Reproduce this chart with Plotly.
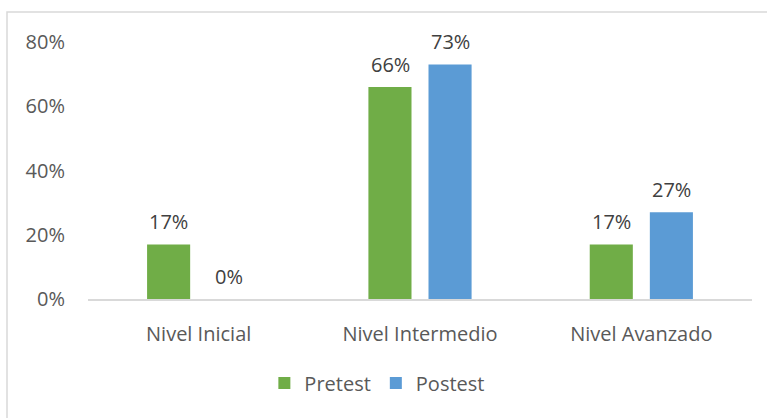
import plotly.graph_objects as go

categories = ["Nivel Inicial", "Nivel Intermedio", "Nivel Avanzado"]
pretest = [0.17, 0.66, 0.17]
postest = [0.00, 0.73, 0.27]
y_ticks = [0, 0.2, 0.4, 0.6, 0.8]
y_tick_labels = ["0%", "20%", "40%", "60%", "80%"]

GREEN = "#70AD47"
BLUE = "#5B9BD5"
FONT = "Open Sans"
SIZE = 20

W, H = 767, 418
L, R, T, B = 88, 15, 42, 119
plot_w = W - L - R
plot_h = H - T - B

fig = go.Figure()
fig.add_trace(go.Bar(name="Pretest", x=categories, y=pretest, marker_color=GREEN,
                     marker_line_width=0))
fig.add_trace(go.Bar(name="Postest", x=categories, y=postest, marker_color=BLUE,
                     marker_line_width=0))

# value labels above each bar
annotations = []
for series, shift in ((pretest, -30), (postest, 30)):
    for cat, v in zip(categories, series):
        annotations.append(dict(
            x=cat, y=v, xref="x", yref="y", xshift=shift, yshift=7,
            text=f"{round(v * 100)}%", showarrow=False, yanchor="bottom",
            font=dict(family=FONT, size=SIZE, color="#404040")))

# outer chart frame
frame = dict(type="rect", xref="paper", yref="paper",
             x0=(7 - L) / plot_w, x1=(W + 10 - L) / plot_w,
             y0=(H - B - (H + 10)) / plot_h, y1=(H - B - 12) / plot_h,
             line=dict(color="#D9D9D9", width=1.5), fillcolor="rgba(0,0,0,0)",
             layer="below")

fig.update_layout(
    width=W, height=H,
    margin=dict(l=L, r=R, t=T, b=B, pad=0),
    paper_bgcolor="white", plot_bgcolor="white",
    barmode="group", bargap=0.457, bargroupgap=0.283,
    font=dict(family=FONT, size=SIZE, color="#595959"),
    showlegend=True,
    legend=dict(orientation="h", xref="container", yref="container",
                x=0.492, xanchor="center", y=1 - 383 / H, yanchor="middle",
                font=dict(family=FONT, size=SIZE, color="#595959"),
                itemwidth=30, tracegroupgap=0, bgcolor="rgba(0,0,0,0)"),
    annotations=annotations,
    shapes=[frame],
)
fig.update_xaxes(showgrid=False, showline=True, linecolor="#D9D9D9", linewidth=1.5,
                 ticks="", ticklabelstandoff=16,
                 tickfont=dict(family=FONT, size=SIZE, color="#595959"))
fig.update_yaxes(range=[0, 0.8], tickvals=y_ticks, ticktext=y_tick_labels,
                 showgrid=False, zeroline=False, showline=False, ticks="",
                 ticklabelstandoff=22,
                 tickfont=dict(family=FONT, size=SIZE, color="#595959"))

fig.write_html("out.html")
